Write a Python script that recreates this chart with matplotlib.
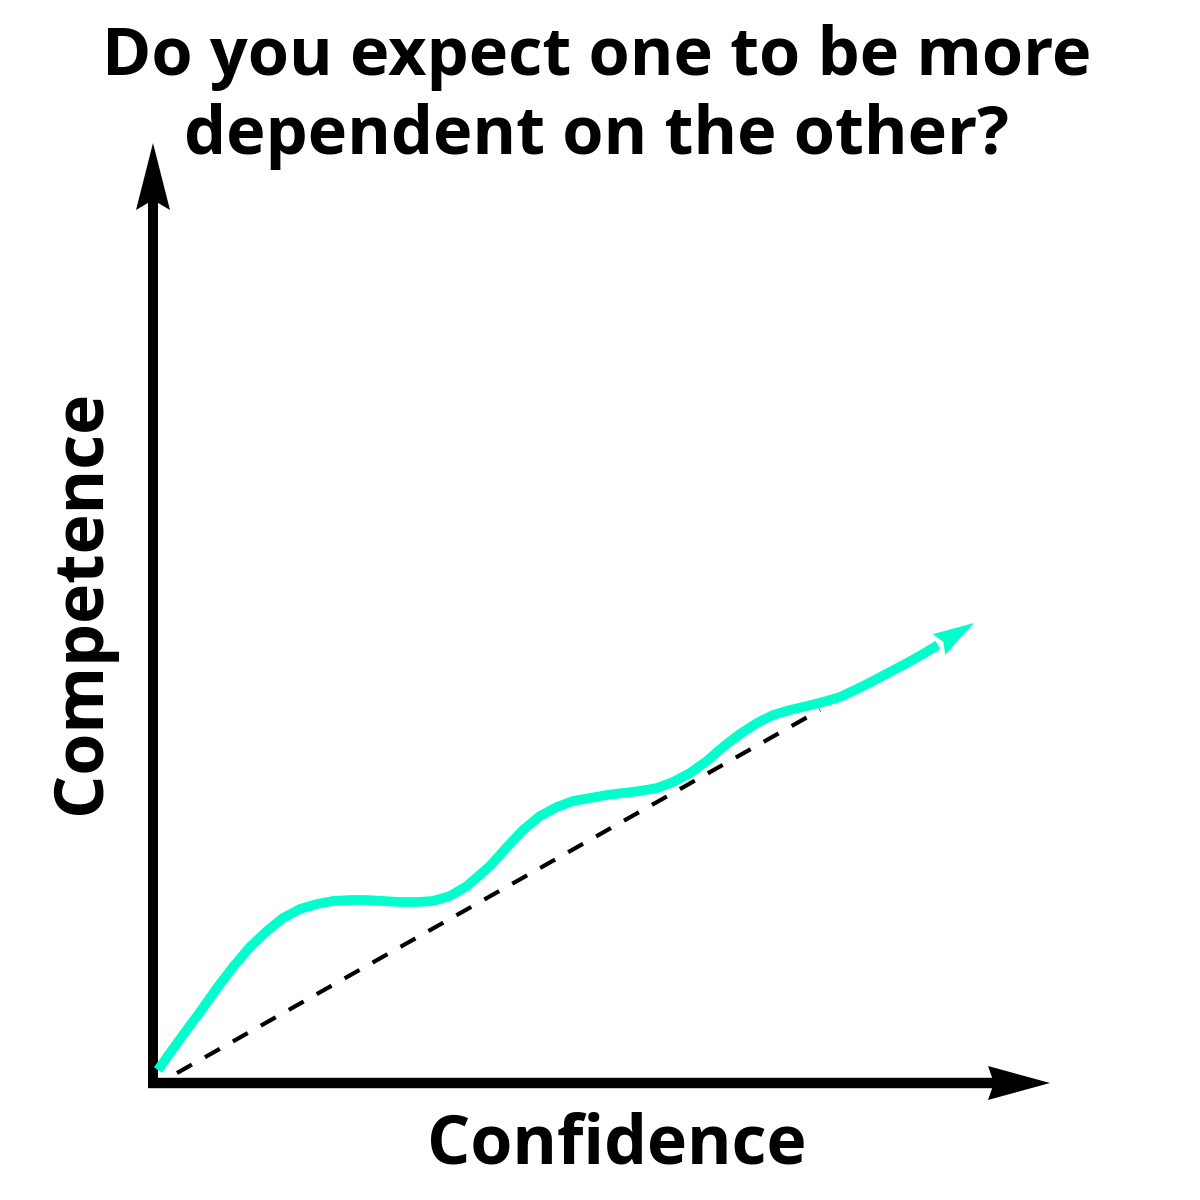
import numpy as np
import matplotlib
matplotlib.use("Agg")
import matplotlib.pyplot as plt
from matplotlib.patches import Polygon

plt.rcParams['font.family'] = ['Open Sans', 'DejaVu Sans']

title = "Do you expect one to be more\ndependent on the other?"
xlabel = "Confidence"
ylabel = "Competence"

# curve (last point = arrow tip)
confidence = [0.05, 0.17, 0.30, 0.47, 0.64, 0.80, 0.97, 1.14, 1.30, 1.47,
              1.64, 1.80, 1.97, 2.14, 2.30, 2.47, 2.64, 2.80, 2.97, 3.14,
              3.37, 3.54, 3.70, 3.87, 4.04, 4.20, 4.37, 4.54, 4.70,
              4.87, 5.04, 5.20, 5.37, 5.54, 5.70, 5.87, 6.04, 6.20, 6.37,
              6.54, 6.70, 6.87, 7.04, 7.20, 7.37, 7.54, 7.70, 7.85, 8.21]
competence = [0.13, 0.30, 0.48, 0.71, 0.95, 1.16, 1.36, 1.52, 1.65, 1.74,
              1.79, 1.82, 1.83, 1.83, 1.82, 1.81, 1.81, 1.82, 1.87, 1.97,
              2.17, 2.36, 2.53, 2.67, 2.76, 2.82, 2.85, 2.88, 2.90,
              2.92, 2.95, 3.01, 3.10, 3.22, 3.36, 3.49, 3.60, 3.68, 3.73,
              3.77, 3.81, 3.86, 3.94, 4.02, 4.11, 4.20, 4.29, 4.38, 4.60]

# straight reference line
ref_x = [0.24, 6.67]
ref_y = [0.10, 3.73]

x_axis_end = 8.97
y_axis_end = 9.40

curve_color = '#00ffcc'


def arrowhead(ax, tip, direction, length, width, notch, color):
    tip = np.asarray(tip, float)
    d = np.asarray(direction, float)
    d = d / np.hypot(*d)
    n = np.array([-d[1], d[0]])
    base = tip - length * d
    pts = [tip, base + width / 2 * n, base + notch * d, base - width / 2 * n]
    ax.add_patch(Polygon(pts, closed=True, facecolor=color, edgecolor='none', zorder=4))


fig = plt.figure(figsize=(12, 12), dpi=100)
ax = fig.add_axes([0, 0, 1, 1])
ax.set_xlim(-1.53, 10.47)
ax.set_ylim(-1.17, 10.83)
ax.axis('off')

# axes with arrows
ax.plot([0, 0], [-0.05, y_axis_end - 0.55], color='black', lw=7.2, solid_capstyle='butt', zorder=3)
ax.plot([-0.05, x_axis_end - 0.5], [0, 0], color='black', lw=7.5, solid_capstyle='butt', zorder=3)
arrowhead(ax, (0, y_axis_end), (0, 1), 0.67, 0.34, 0.10, 'black')
arrowhead(ax, (x_axis_end, 0), (1, 0), 0.62, 0.34, 0.06, 'black')

# dashed reference
ax.plot(ref_x, ref_y, color='black', lw=3, linestyle=(0, (4.1, 3.6)), zorder=2)

# curve
ax.plot(confidence[:-1], competence[:-1], color=curve_color, lw=7,
        solid_capstyle='butt', solid_joinstyle='round', zorder=3)
arrowhead(ax, (confidence[-1], competence[-1]),
          (confidence[-1] - confidence[-2], competence[-1] - competence[-2]),
          0.41, 0.24, 0.05, curve_color)

fig.text(0.4975, 1 - 97 / 1200, title, ha='center', va='center',
         fontsize=48, fontweight='bold', linespacing=1.24)
fig.text(617 / 1200, 1 - 1145 / 1200, xlabel, ha='center', va='center',
         fontsize=49, fontweight='bold')
fig.text(82 / 1200, 1 - 602 / 1200, ylabel, ha='center', va='center',
         fontsize=49, fontweight='bold', rotation=90)

fig.savefig('out.png', dpi=100, facecolor='white')
